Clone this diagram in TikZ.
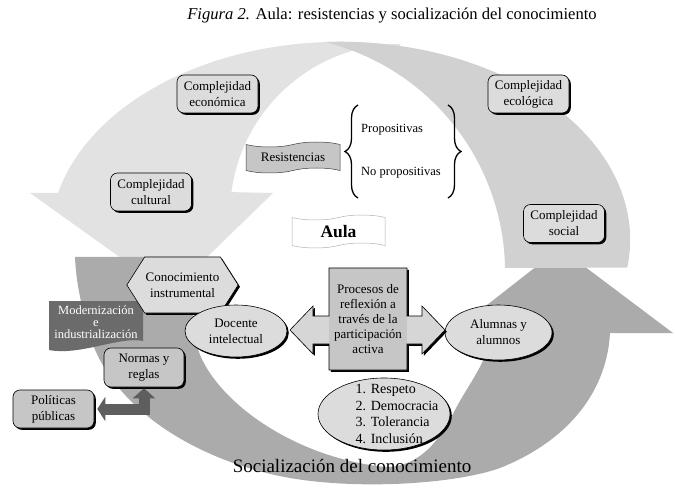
\documentclass[tikz,border=0pt]{standalone}
\usepackage{fontspec}
\setmainfont{Liberation Serif}
\usetikzlibrary{shapes.geometric,shapes.symbols,shadows,arrows.meta,decorations.pathreplacing}
\definecolor{arcA}{HTML}{E2E2E2}
\definecolor{arcB}{HTML}{D1D1D1}
\definecolor{arcC}{HTML}{ABABAB}
\definecolor{boxA}{HTML}{DCDCDC}
\definecolor{boxB}{HTML}{C6C6C6}
\definecolor{modc}{HTML}{6B6B6B}
\definecolor{larc}{HTML}{5E5E5E}
\definecolor{crossA}{HTML}{D6D6D6}
\definecolor{crossB}{HTML}{C6C6C6}
\begin{document}
\begin{tikzpicture}[x=1pt,y=-1pt,
  shad/.style={drop shadow={shadow xshift=1.8pt,shadow yshift=-1.8pt,fill=black,opacity=1}},
  txt/.style={font=\fontsize{13}{16}\selectfont, align=center, text=black, inner sep=1pt},
  cbox/.style={txt, draw=black, line width=0.6pt, rounded corners=7pt, fill=boxA,
     minimum width=81pt, minimum height=38pt, shad},
  nbox/.style={cbox, fill=boxB},
  ell/.style={txt, ellipse, draw=black, line width=0.6pt, fill=boxA, shad},
  brc/.style={decorate, decoration={brace, amplitude=13pt}, line width=1.3pt},
]
\fill[white] (0,0) rectangle (675,489);
\useasboundingbox (0,0) rectangle (675,489);

% top light arc, left part with arrowhead
\fill[arcA] (58,193) arc[start angle=193.7, end angle=282, x radius=290, y radius=198]
  -- (400,44) arc[start angle=270, end angle=187.4, radius=170]
  -- (273,193) -- (170,293) -- (30,193) -- cycle;

% bottom dark arc
\fill[arcC] (75,257) -- (200,257)
  .. controls (190,300) and (190,340) .. (205,365)
  .. controls (230,410) and (300,458) .. (385,467)
  .. controls (420,467) and (440,440) .. (455,410)
  .. controls (468,385) and (485,365) .. (490,340)
  -- (455,330) -- (560,248) -- (673,333) -- (610,333)
  .. controls (607,390) and (570,440) .. (500,468)
  .. controls (455,484) and (360,490) .. (290,478)
  .. controls (200,462) and (110,410) .. (88,330)
  .. controls (80,300) and (76,280) .. (75,257) -- cycle;

% top light arc, right part
\fill[arcB] (325,42) arc[start angle=267, end angle=368.1, x radius=290, y radius=198]
  -- (505,268) arc[start angle=359, end angle=284, radius=237] -- cycle;

% title
\node[font=\fontsize{16.6}{19}\selectfont] (title) at (392,16)
  {\textit{Figura 2.} Aula: resistencias y socialización del conocimiento};

% complexity boxes
\node[cbox] (eco) at (217.5,94) {Complejidad\\económica};
\node[cbox] (ecol) at (528.5,94) {Complejidad\\ecológica};
\node[cbox] (cult) at (151,192) {Complejidad\\cultural};
\node[cbox] (soc) at (564,223.5) {Complejidad\\social};

% resistencias banner and braces
\node[txt, tape, draw=black!75, line width=0.5pt, fill=boxB, minimum width=94pt,
  minimum height=31pt, tape bend height=5pt] (res) at (293,157.5) {Resistencias};
\draw[brc] (358,198) -- (358,105);
\draw[brc] (448,105) -- (448,198);
\node[txt, anchor=west, font=\fontsize{12.5}{15}\selectfont] (p1) at (360,130) {Propositivas};
\node[txt, anchor=west, font=\fontsize{12.5}{15}\selectfont] (p2) at (360,173) {No propositivas};

% aula banner
\node[tape, draw=black!30, line width=0.5pt, fill=white, minimum width=93pt,
  minimum height=33pt, tape bend height=5pt, font=\fontsize{17.5}{20}\selectfont\bfseries]
  (aula) at (338.5,231.5) {Aula};

% modernizacion
\fill[modc] (49,301) -- (143,301) -- (143,341)
  .. controls (120,336) and (80,356) .. (49,350) -- cycle;
\node[txt, text=white, font=\fontsize{12.5}{12}\selectfont] (mod) at (96,322)
  {Modernización\\e\\industrialización};

% hexagon
\node[txt, signal, signal to=west and east, signal pointer angle=115, draw=black,
  line width=0.6pt, fill=boxA, minimum width=111pt, minimum height=56pt, shad]
  (hex) at (182.5,285) {Conocimiento\\instrumental};

% ellipses
\node[ell, minimum width=102pt, minimum height=52pt] (doc) at (236,331) {Docente\\intelectual};
\node[ell, minimum width=107pt, minimum height=55pt] (alum) at (498.5,332.5) {Alumnas y\\alumnos};
\node[ell, minimum width=132pt, minimum height=72pt] (resp) at (384,414) {};
\node[txt, align=left, font=\fontsize{14}{16.5}\selectfont] (respt) at (397,414)
  {1. Respeto\\2. Democracia\\3. Tolerancia\\4. Inclusión};

% normas and politicas
\node[nbox, minimum width=80pt, minimum height=39pt] (nor) at (144,367.5) {Normas y\\reglas};
\node[nbox] (pol) at (53.5,409) {Políticas\\públicas};
\draw[larc, line width=11pt, line join=miter,
  {Triangle[width=24pt,length=8pt]}-{Triangle[width=22pt,length=10pt]},
  shorten <=3pt, shorten >=1pt] (pol.east) -| (nor.south);

% central cross arrow
\fill[crossA, shad] (329,268) -- (407,268) -- (407,316) -- (422,316) -- (422,306) -- (445,330)
  -- (422,354) -- (422,344) -- (407,344) -- (407,370) -- (329,370) -- (329,344)
  -- (313,344) -- (313,354) -- (290,330) -- (313,306) -- (313,316) -- (329,316) -- cycle;
\fill[crossB] (329,268) rectangle (407,370);
\draw[black, line width=0.6pt, line join=miter] (329,268) -- (407,268) -- (407,316) -- (422,316) -- (422,306) -- (445,330)
  -- (422,354) -- (422,344) -- (407,344) -- (407,370) -- (329,370) -- (329,344)
  -- (313,344) -- (313,354) -- (290,330) -- (313,306) -- (313,316) -- (329,316) -- cycle;
\node[txt, font=\fontsize{13}{15}\selectfont] (proc) at (368,319)
  {Procesos de\\reflexión a\\través de la\\participación\\activa};

% bottom label
\node[font=\fontsize{19}{21}\selectfont] (socz) at (352,466) {Socialización del conocimiento};
\end{tikzpicture}
\end{document}
